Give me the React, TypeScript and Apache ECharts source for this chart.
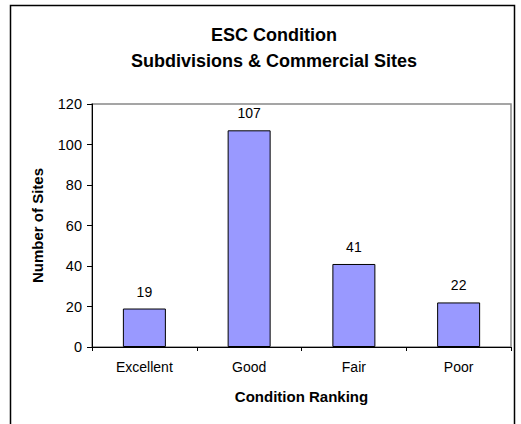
import React, { useEffect, useRef } from "react";
import * as echarts from "echarts";

const categories = ["Excellent", "Good", "Fair", "Poor"];
const siteCounts = [19, 107, 41, 22];
const titleLines = ["ESC Condition", "Subdivisions & Commercial Sites"];
const xAxisName = "Condition Ranking";
const yAxisName = "Number of Sites";

const FONT = "'Liberation Sans', Arial, sans-serif";

export default function App() {
  const ref = useRef<HTMLDivElement>(null);
  useEffect(() => {
    if (!ref.current) return;
    const chart = echarts.init(ref.current, null, { renderer: "svg" });
    chart.setOption({
      animation: false,
      backgroundColor: "#ffffff",
      title: {
        text: titleLines.join("\n"),
        left: 269,
        top: 17,
        textAlign: "center",
        textStyle: {
          fontFamily: FONT,
          fontSize: 18,
          fontWeight: "bold",
          color: "#000",
          lineHeight: 26,
        },
      },
      graphic: [
        {
          type: "rect",
          shape: { x: 10.5, y: 5.5, width: 504, height: 440 },
          style: { fill: "none", stroke: "#000", lineWidth: 1.5 },
          silent: true,
          z: 100,
        },
      ],
      grid: {
        left: 92,
        top: 104,
        right: 10,
        bottom: 77,
        show: true,
        borderColor: "#888888",
        borderWidth: 1.5,
        backgroundColor: "#ffffff",
      },
      xAxis: {
        type: "category",
        data: categories,
        boundaryGap: true,
        name: xAxisName,
        nameLocation: "middle",
        nameGap: 42,
        nameTextStyle: {
          fontFamily: FONT,
          fontSize: 15,
          fontWeight: "bold",
          color: "#000",
        },
        axisLine: { lineStyle: { color: "#000", width: 1 } },
        axisTick: { show: true, alignWithLabel: false, length: 4, lineStyle: { color: "#000" } },
        axisLabel: {
          fontFamily: FONT,
          fontSize: 14,
          color: "#000",
          margin: 13,
        },
      },
      yAxis: {
        type: "value",
        min: 0,
        max: 120,
        interval: 20,
        name: yAxisName,
        nameLocation: "middle",
        nameGap: 47,
        nameTextStyle: {
          fontFamily: FONT,
          fontSize: 15,
          fontWeight: "bold",
          color: "#000",
        },
        axisLine: { show: true, lineStyle: { color: "#000", width: 1 } },
        axisTick: { show: true, length: 5, lineStyle: { color: "#000" } },
        splitLine: { show: false },
        axisLabel: {
          fontFamily: FONT,
          fontSize: 14.5,
          color: "#000",
          margin: 10,
        },
      },
      series: [
        {
          type: "bar",
          data: siteCounts,
          barWidth: 43,
          itemStyle: { color: "#9999FF", borderColor: "#000", borderWidth: 1 },
          label: {
            show: true,
            position: "top",
            distance: 10,
            fontFamily: FONT,
            fontSize: 14,
            color: "#000",
          },
        },
      ],
    });
    return () => chart.dispose();
  }, []);
  return (
    <div
      ref={ref}
      style={{ position: "absolute", left: 0, top: 0, width: 521, height: 424 }}
    />
  );
}
